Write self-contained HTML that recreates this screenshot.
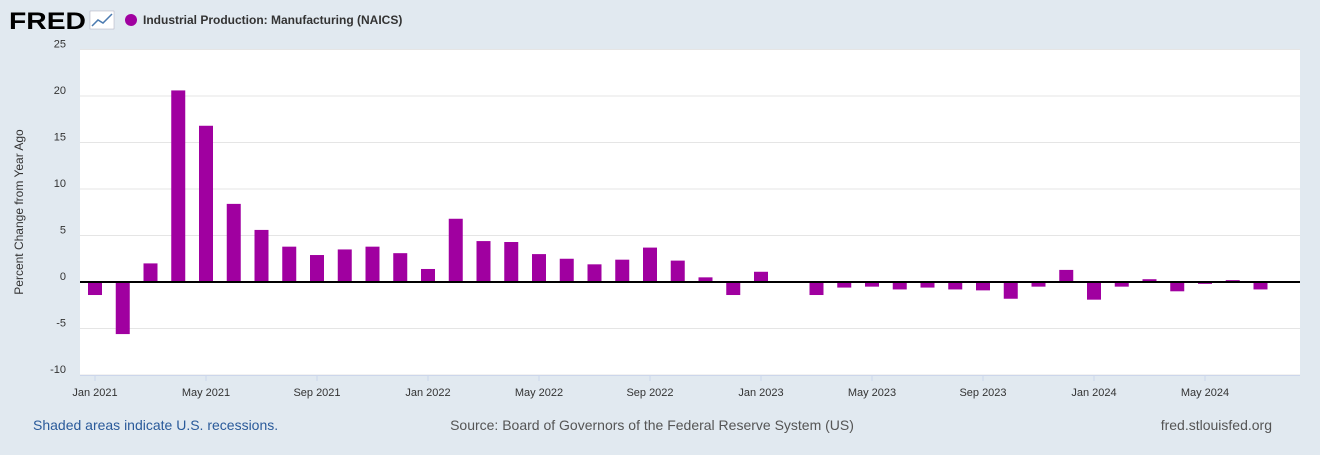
<!DOCTYPE html>
<html><head><meta charset="utf-8"><style>
body{margin:0;width:1320px;height:450px;background:#e1e9f0;font-family:"Liberation Sans",sans-serif;overflow:hidden}
svg text{font-family:"Liberation Sans",sans-serif}
</style></head><body>
<svg width="1320" height="450">
<text x="9" y="29" font-size="24" font-weight="bold" fill="#000" textLength="77" lengthAdjust="spacingAndGlyphs">FRED</text>
<g><rect x="90" y="11" width="24" height="18" fill="#fff" stroke="#aab" stroke-width="0.5"/><polyline points="92,26 98,20 103,23 112,14" fill="none" stroke="#4a7ab0" stroke-width="1.5"/></g>
<circle cx="131" cy="20" r="6" fill="#a000a0"/>
<text x="143" y="24" font-size="12" font-weight="bold" fill="#333">Industrial Production: Manufacturing (NAICS)</text>
<rect x="80" y="50" width="1220" height="325" fill="#fff"/>
<g id="grid"></g><g id="bars"></g><g id="xt"></g>
<text transform="translate(23,212) rotate(-90)" text-anchor="middle" font-size="12" fill="#333">Percent Change from Year Ago</text>
<text x="33" y="430" font-size="14" fill="#2a5a9a">Shaded areas indicate U.S. recessions.</text>
<text x="652" y="430" text-anchor="middle" font-size="14" fill="#555">Source: Board of Governors of the Federal Reserve System (US)</text>
<text x="1272" y="430" text-anchor="end" font-size="14" fill="#555">fred.stlouisfed.org</text>
</svg>
<script>
const values=[-1.4,-5.6,2.0,20.6,16.8,8.4,5.6,3.8,2.9,3.5,3.8,3.1,1.4,6.8,4.4,4.3,3.0,2.5,1.9,2.4,3.7,2.3,0.5,-1.4,1.1,0.0,-1.4,-0.6,-0.5,-0.8,-0.6,-0.8,-0.9,-1.8,-0.5,1.3,-1.9,-0.5,0.3,-1.0,-0.2,0.2,-0.8];
const yTicks=[25,20,15,10,5,0,-5,-10];
const xTickLabels=["Jan 2021","May 2021","Sep 2021","Jan 2022","May 2022","Sep 2022","Jan 2023","May 2023","Sep 2023","Jan 2024","May 2024"];
const xTickIdx=[0,4,8,12,16,20,24,28,32,36,40];
const NS="http://www.w3.org/2000/svg";
const y=v=>282-v*9.3;
const x=i=>95+i*27.75;
function mk(t,a,p){const e=document.createElementNS(NS,t);for(const k in a)e.setAttribute(k,a[k]);p.appendChild(e);return e;}
const g=document.getElementById('grid');
yTicks.forEach(v=>{
 if(v!==0){const l=mk('line',{x1:80,x2:1300,y1:y(v),y2:y(v),stroke:'#e5e5e5'},g);
 
 }
 const t=mk('text',{x:66,y:y(v)-2,'text-anchor':'end','font-size':11,fill:'#333'},g);t.textContent=v;
 
 
});
const b=document.getElementById('bars');
values.forEach((v,i)=>{
 const r=mk('rect',{x:x(i)-7,y:Math.min(y(v),y(0)),width:14,height:Math.abs(y(v)-y(0)),fill:'#a000a0'},b);
 
 
});
const z=mk('line',{x1:80,x2:1300,y1:y(0),y2:y(0),stroke:'#000','stroke-width':2},b);


const xa=mk('line',{x1:80,x2:1300,y1:375.5,y2:375.5,stroke:'#ccd6eb'},b);


const xt=document.getElementById('xt');
xTickIdx.forEach((idx,k)=>{
 const tk=mk('line',{x1:x(idx),x2:x(idx),y1:375,y2:381,stroke:'#ccd6eb'},xt);
 
 
 const t=mk('text',{x:x(idx),y:396,'text-anchor':'middle','font-size':11,fill:'#333'},xt);t.textContent=xTickLabels[k];
 
 
});
</script>
</body></html>
